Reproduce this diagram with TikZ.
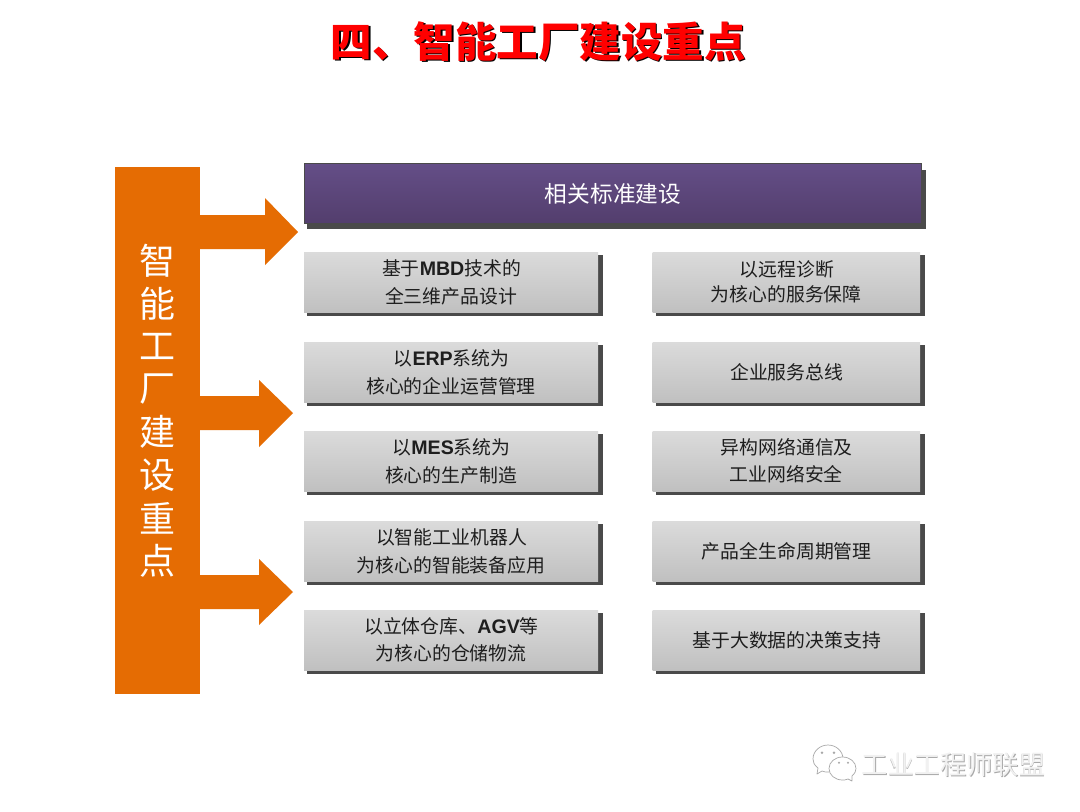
\documentclass[tikz,border=0pt]{standalone}
\usepackage{fontspec}
\setmainfont{Noto Sans CJK SC}
\newfontfamily\latf{Liberation Sans}
\usetikzlibrary{calc}
\definecolor{orangeC}{HTML}{E56C03}
\definecolor{shadowC}{HTML}{4A4A4A}
\definecolor{textC}{HTML}{1E1E1E}
\definecolor{purpleT}{HTML}{644E87}
\definecolor{purpleB}{HTML}{533E6D}
\definecolor{grayT}{HTML}{DBDBDB}
\definecolor{grayB}{HTML}{C0C0C0}
\definecolor{markC}{HTML}{A8A8A8}
\definecolor{markL}{HTML}{F1F1F1}
\newcommand{\LB}[1]{{\latf\bfseries\fontsize{19.6}{28}\selectfont #1}}
\tikzset{
  graybox/.style={rectangle,inner sep=0pt,outer sep=0pt,top color=grayT,bottom color=grayB,draw=none,
    align=center,text=textC,font=\fontsize{18.85}{28}\selectfont},
  purplebox/.style={rectangle,inner sep=0pt,outer sep=0pt,top color=purpleT,bottom color=purpleB,draw=shadowC,line width=1pt,
    text=white,font=\fontsize{22.7}{28}\selectfont},
  shadowbox/.style={fill=shadowC,draw=none},
  orangebar/.style={fill=orangeC,draw=none},
  vchar/.style={text=white,inner sep=0pt,font=\fontsize{36}{36}\selectfont},
  titletext/.style={inner sep=0pt,font=\fontsize{41.5}{42}\selectfont\bfseries},
  marktext/.style={inner sep=0pt,font=\fontsize{26.2}{26}\selectfont},
  bubble/.style={draw=markC,line width=0.7pt,fill=white,line join=round}
}
% name, x0, y0, x1, y1, text
\newcommand{\gbox}[6]{%
  \fill[shadowbox] (#2+3,#3+3) rectangle (#4+5,#5+4);
  \node[graybox,minimum width=#4pt-#2pt,minimum height=#5pt-#3pt] (#1) at ({(#2+#4)/2},{(#3+#5)/2}) {\hspace{1pt}#6};
}
\begin{document}
\begin{tikzpicture}[x=1pt,y=-1pt]
\useasboundingbox (0,0) rectangle (1080,812);
\fill[white] (0,0) rectangle (1080,812);
% title
\node[titletext,text=black] (titleS) at (539.5,43) {四、智能工厂建设重点};
\node[titletext,text=red] (title) at (538,41.5) {四、智能工厂建设重点};
% left bar
\fill[orangebar] (115,167) rectangle (200,694);
\foreach \c/\y/\n in {智/261/a,能/304/b,工/346/c,厂/389/d,建/432/e,设/475/f,重/518/g,点/561/h}
  \node[vchar] (bar\n) at (157,\y) {\c};
% arrows
\fill[orangebar] (200,215) -- (265,215) -- (265,198) -- (298,232) -- (265,265) -- (265,249) -- (200,249) -- cycle;
\fill[orangebar] (200,396) -- (259,396) -- (259,380) -- (293,413) -- (259,447) -- (259,430) -- (200,430) -- cycle;
\fill[orangebar] (200,575) -- (259,575) -- (259,559) -- (293,592) -- (259,625) -- (259,609) -- (200,609) -- cycle;
% purple
\fill[shadowbox] (307,170) rectangle (925.5,229);
\node[purplebox,minimum width=617pt,minimum height=59.5pt] (std) at (612.5,193.5) {\hspace{1pt}相关标准建设};
% left column
\gbox{l1}{304}{252}{598}{312}{基于\LB{MBD}技术的\\全三维产品设计}
\gbox{l2}{304}{342}{598}{402}{以\LB{ERP}系统为\\核心的企业运营管理}
\gbox{l3}{304}{431}{598}{491}{以\LB{MES}系统为\\核心的生产制造}
\gbox{l4}{304}{521}{598}{581}{以智能工业机器人\\为核心的智能装备应用}
\gbox{l5}{304}{610}{598}{670}{以立体仓库、\LB{AGV}等\\[-1pt]为核心的仓储物流}
% right column
\gbox{r1}{652.5}{252}{920}{312}{以远程诊断\\[-3pt]为核心的服务保障}
\gbox{r2}{652.5}{342}{920}{402}{企业服务总线}
\gbox{r3}{652.5}{431}{920}{491}{异构网络通信及\\[-1pt]工业网络安全}
\gbox{r4}{652.5}{521}{920}{581}{产品全生命周期管理}
\gbox{r5}{652.5}{610}{920}{670}{基于大数据的决策支持}
% watermark
\draw[bubble] (818,768) .. controls (814,765) and (813,762) .. (813,759)
  .. controls (813,751) and (820,745) .. (828,745)
  .. controls (836,745) and (843,751) .. (843,759)
  .. controls (843,766) and (836,772) .. (828,772)
  .. controls (826,772) and (824,772) .. (822,771) -- (817,774) -- cycle;
\draw[bubble] (852,776) .. controls (855,773) and (856,771) .. (856,768.5)
  .. controls (856,762) and (850,757) .. (842.5,757)
  .. controls (835,757) and (829,762) .. (829,768.5)
  .. controls (829,775) and (835,780) .. (842.5,780)
  .. controls (844,780) and (846,780) .. (848,779) -- (852,781) -- cycle;
\fill[markC] (822,752.7) circle (1.3) (834,752.7) circle (1.3) (839,762.7) circle (1.1) (848,762.7) circle (1.1);
\node[marktext,text=markC] (markS) at (954.2,765.7) {工业工程师联盟};
\node[marktext,text=markL] (mark) at (953.5,765) {工业工程师联盟};
\end{tikzpicture}
\end{document}
